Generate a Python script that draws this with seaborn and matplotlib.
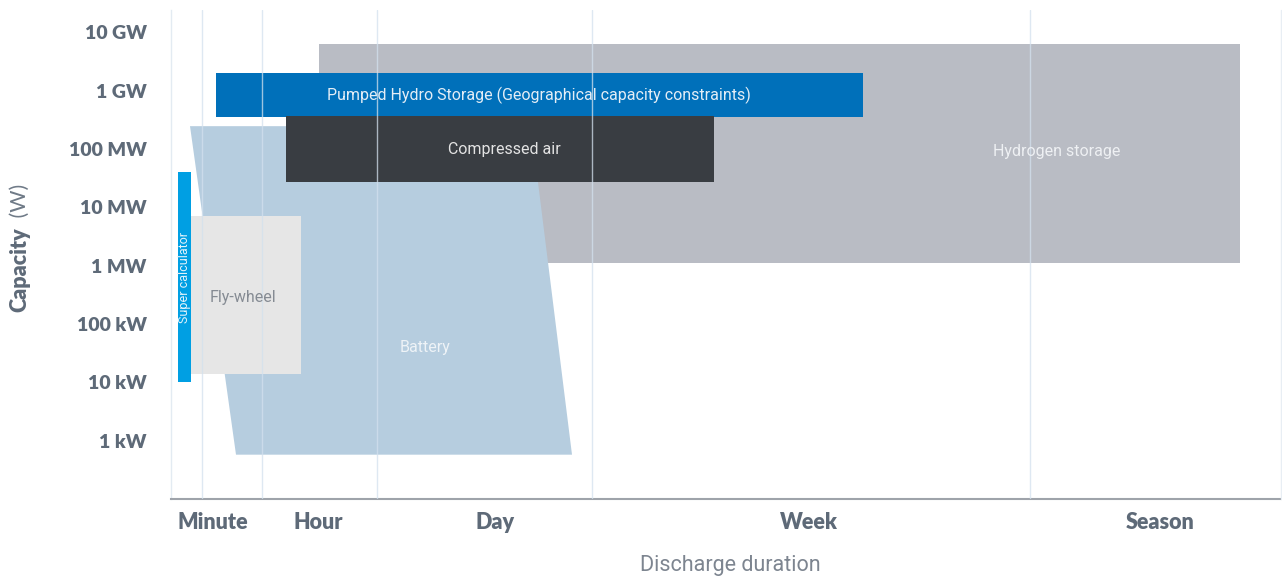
import matplotlib
matplotlib.use("Agg")
import matplotlib.pyplot as plt
import seaborn as sns
import numpy as np

# ---- data (x in "duration scale" units, y in watts) ----
duration_labels = ["Minute", "Hour", "Day", "Week", "Season"]
duration_ticks = [42, 147, 324, 638, 989]
grid_positions = [0, 31, 91, 206, 421, 859, 1110]

capacity_ticks = [1e3, 1e4, 1e5, 1e6, 1e7, 1e8, 1e9, 1e10]
capacity_labels = ["1 kW", "10 kW", "100 kW", "1 MW", "10 MW", "100 MW", "1 GW", "10 GW"]

# rectangles: name, x0, x1, y0, y1
tech_names = ["Hydrogen storage", "Pumped Hydro Storage (Geographical capacity constraints)",
              "Compressed air", "Fly-wheel", "Super calculator"]
tech_x0 = [148, 45, 115, 20, 7]
tech_x1 = [1069, 692, 543, 130, 20]
tech_y0 = [1.1e6, 3.5e8, 2.75e7, 1.4e4, 1.0e4]
tech_y1 = [6.2e9, 2.0e9, 3.6e8, 7.2e6, 4.0e7]

# battery polygon
battery_x = [19, 360, 401, 65]
battery_y = [2.45e8, 2.45e8, 575, 575]

# ---- style ----
sns.set_theme(style="white")
plt.rcParams['font.family'] = ['Lato', 'DejaVu Sans']

fig = plt.figure(figsize=(12.82, 5.79), dpi=100)
ax = fig.add_axes([171/1282, 1-499/579, 1110/1282, 489/579])
ax.set_yscale('log')
ax.set_xlim(0, 1110)
ax.set_ylim(100, 10**10.38)

fills = ["#b9bcc4", "#0070ba", "#393d42", "#e6e6e6", "#009fe3"]
txtcol = ["#eef0f3", "#e3edf6", "#e3e3e3", "#858b93", "#e3f3fb"]

# hydrogen (back)
i = 0
ax.fill_between([tech_x0[i], tech_x1[i]], tech_y0[i], tech_y1[i], color=fills[i], lw=0, zorder=1)
# battery
ax.fill(battery_x, battery_y, color="#b6cddf", lw=0, zorder=2)
# others
for i in range(1, 5):
    ax.fill_between([tech_x0[i], tech_x1[i]], tech_y0[i], tech_y1[i], color=fills[i], lw=0, zorder=3)

# gridlines on top
for g in grid_positions[1:-1]:
    ax.axvline(g, color="#d3e1ee", lw=1.0, alpha=0.75, zorder=5)

tfont = dict(family=['Roboto', 'DejaVu Sans'], fontweight='normal')
ax.text(886, 10**7.96, tech_names[0], color=txtcol[0], fontsize=11.5, ha='center', va='center', zorder=6, **tfont)
ax.text(368, np.sqrt(tech_y0[1]*tech_y1[1]), tech_names[1], color=txtcol[1], fontsize=11.5, ha='center', va='center', zorder=6, **tfont)
ax.text(333, np.sqrt(tech_y0[2]*tech_y1[2]), tech_names[2], color=txtcol[2], fontsize=11.5, ha='center', va='center', zorder=6, **tfont)
ax.text(72, 10**5.45, tech_names[3], color=txtcol[3], fontsize=11.5, ha='center', va='center', zorder=6, **tfont)
ax.text(13.5, 10**5.8, tech_names[4], color=txtcol[4], fontsize=9, ha='center', va='center', rotation=90, zorder=6, **tfont)
ax.text(254, 10**4.6, "Battery", color="#eef3f7", fontsize=11.5, ha='center', va='center', zorder=6, **tfont)

# axes styling
ax.minorticks_off()
ax.set_yticks(capacity_ticks)
ax.set_yticklabels(capacity_labels)
ax.set_xticks(duration_ticks)
ax.set_xticklabels(duration_labels)
lab = "#5e6a78"
ax.tick_params(axis='y', length=0, pad=17.5, labelsize=14, labelcolor=lab)
ax.tick_params(axis='x', length=0, pad=9.5, labelsize=15.5, labelcolor=lab)
for t in ax.get_yticklabels() + ax.get_xticklabels():
    t.set_fontweight('heavy')

for s in ['top', 'right']:
    ax.spines[s].set_visible(False)
ax.spines['left'].set_color("#e3ebf2")
ax.spines['left'].set_linewidth(1.0)
ax.spines['bottom'].set_color("#9ea3aa")
ax.spines['bottom'].set_linewidth(1.5)
ax.axvline(1110, color="#e8eef4", lw=1.0, zorder=5, clip_on=False)

# axis titles
fig.text(20/1282, 1-227/579, "Capacity", rotation=90, rotation_mode='anchor',
         ha='right', va='center', fontsize=15.5, fontweight='heavy', color=lab)
fig.text(20/1282, 1-223/579, " (W)", rotation=90, rotation_mode='anchor',
         ha='left', va='center', fontsize=15.5, fontweight='normal', color="#6f7a87")
fig.text(730/1282, 1-565/579, "Discharge duration", ha='center', va='center',
         fontsize=15.5, color="#7d8590", family=['Roboto', 'DejaVu Sans'], fontweight='normal')

fig.savefig("out.png", dpi=100)
